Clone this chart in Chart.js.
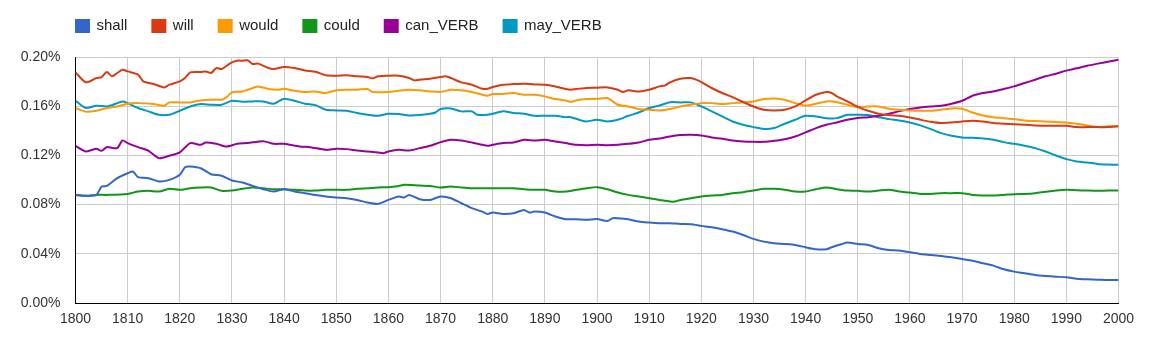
<!DOCTYPE html>
<html>
<head>
<meta charset="utf-8">
<script src="https://cdn.jsdelivr.net/npm/chart.js@4.4.1/dist/chart.umd.min.js"></script>
<style>
  html, body { margin: 0; padding: 0; background: #fff; }
  #wrap { width: 1152px; height: 346px; }
</style>
</head>
<body>
<div id="wrap"><canvas id="c" width="1152" height="346"></canvas></div>
<script>
// ---- data: [year, percent] ----
const shall = [[1800,.0879],[1802,.0871],[1804,.0879],[1805,.0947],[1806,.0952],[1808,.1015],[1810,.1055],[1811,.1069],[1812,.1023],[1814,.1015],[1816,.0988],[1818,.1001],[1820,.1042],[1821,.1104],[1822,.111],[1824,.1096],[1826,.1047],[1828,.1034],[1830,.0996],[1832,.098],[1834,.0952],[1836,.0925],[1838,.0906],[1840,.0925],[1842,.0906],[1844,.0893],[1846,.0878],[1848,.0866],[1850,.0858],[1852,.0852],[1854,.0838],[1856,.0817],[1858,.0806],[1860,.0838],[1862,.0866],[1863,.0857],[1864,.0879],[1866,.0844],[1868,.0838],[1870,.0866],[1872,.0852],[1874,.0811],[1876,.0771],[1878,.0743],[1879,.0724],[1880,.0735],[1882,.0724],[1884,.073],[1886,.0757],[1887,.0735],[1888,.0743],[1890,.0735],[1892,.0703],[1894,.0681],[1896,.0681],[1898,.0676],[1900,.0682],[1902,.0667],[1903,.0689],[1904,.0689],[1906,.0681],[1908,.0662],[1910,.0654],[1912,.0649],[1914,.0649],[1916,.0643],[1918,.064],[1920,.0627],[1922,.0616],[1924,.06],[1926,.0581],[1928,.0553],[1930,.0521],[1932,.0499],[1934,.0486],[1936,.048],[1938,.0472],[1940,.0453],[1942,.0437],[1944,.0437],[1945,.0453],[1947,.048],[1948,.0491],[1950,.048],[1952,.0472],[1954,.0445],[1956,.0431],[1958,.0426],[1960,.0412],[1962,.0399],[1964,.0391],[1966,.0383],[1968,.0372],[1970,.0358],[1972,.0344],[1974,.0323],[1976,.0304],[1978,.0274],[1980,.0255],[1982,.0242],[1984,.0228],[1986,.022],[1988,.0214],[1990,.0209],[1992,.0198],[1994,.0193],[1996,.019],[1998,.0187],[2000,.0187]];

const will = [[1800,.1875],[1802,.1794],[1804,.1829],[1805,.1837],[1806,.1878],[1807,.1843],[1808,.187],[1809,.1897],[1810,.1883],[1812,.1856],[1813,.1802],[1815,.178],[1817,.1753],[1818,.1775],[1820,.1802],[1821,.1829],[1822,.1875],[1824,.1878],[1825,.1883],[1826,.187],[1827,.191],[1828,.1902],[1829,.1929],[1830,.1957],[1831,.197],[1832,.197],[1833,.1973],[1834,.1943],[1835,.1946],[1837,.191],[1838,.1902],[1840,.1919],[1842,.191],[1844,.1891],[1846,.188],[1848,.1851],[1850,.1848],[1852,.1851],[1854,.1843],[1856,.1837],[1857,.1826],[1858,.1843],[1860,.1848],[1862,.1848],[1864,.1829],[1865,.181],[1866,.1816],[1868,.1824],[1870,.1837],[1871,.1843],[1872,.1829],[1874,.1794],[1876,.1775],[1878,.1742],[1879,.1742],[1880,.1756],[1882,.1775],[1884,.178],[1886,.1783],[1888,.1777],[1890,.1775],[1892,.1761],[1894,.174],[1895,.1734],[1896,.174],[1898,.1748],[1900,.1750],[1902,.1753],[1904,.1734],[1905,.1715],[1906,.1729],[1908,.172],[1910,.1734],[1912,.1761],[1913,.1767],[1914,.1794],[1916,.1824],[1918,.1829],[1919,.1816],[1920,.1796],[1922,.1748],[1924,.1707],[1926,.1674],[1928,.1634],[1930,.1598],[1932,.1571],[1934,.1566],[1936,.1571],[1938,.1598],[1940,.1647],[1942,.1693],[1944,.1715],[1945,.1707],[1946,.168],[1948,.1639],[1950,.1595],[1952,.1563],[1954,.1539],[1956,.1528],[1958,.1522],[1960,.1509],[1962,.149],[1964,.1473],[1966,.1463],[1968,.1468],[1970,.1476],[1972,.1482],[1974,.1476],[1976,.1463],[1978,.1457],[1980,.1454],[1982,.1449],[1984,.1444],[1986,.1441],[1988,.1441],[1990,.1441],[1992,.143],[1994,.143],[1996,.143],[1998,.143],[2000,.1436]];

const would = [[1800,.1585],[1802,.1555],[1804,.1563],[1806,.1585],[1808,.1598],[1810,.162],[1812,.1625],[1815,.1617],[1817,.1604],[1818,.1631],[1820,.1631],[1822,.1631],[1824,.1647],[1826,.1653],[1828,.1653],[1829,.1674],[1830,.1712],[1832,.172],[1834,.1748],[1835,.1761],[1837,.174],[1839,.1734],[1840,.1742],[1842,.1726],[1844,.1715],[1846,.172],[1848,.1707],[1850,.1729],[1852,.1734],[1854,.1734],[1856,.174],[1857,.1715],[1860,.1715],[1862,.1726],[1864,.1734],[1866,.1729],[1868,.172],[1870,.1715],[1872,.1734],[1874,.1729],[1876,.1715],[1878,.1693],[1879,.1685],[1880,.1699],[1882,.1699],[1884,.1707],[1886,.1693],[1888,.1693],[1890,.168],[1892,.1658],[1894,.1647],[1895,.1634],[1896,.1647],[1898,.1658],[1900,.1660],[1902,.1666],[1904,.1612],[1906,.1598],[1908,.1577],[1910,.1571],[1912,.1566],[1914,.1577],[1916,.1598],[1918,.1612],[1920,.1625],[1922,.1625],[1924,.1617],[1926,.1625],[1928,.1631],[1930,.1639],[1932,.1658],[1934,.1663],[1936,.1653],[1938,.1625],[1940,.1606],[1942,.162],[1944,.1639],[1946,.1633],[1948,.1612],[1950,.1592],[1952,.1598],[1954,.1598],[1956,.1579],[1958,.1571],[1960,.1566],[1962,.1563],[1964,.1563],[1966,.1571],[1968,.1582],[1970,.1579],[1972,.1549],[1974,.1525],[1976,.1511],[1978,.1503],[1980,.1495],[1982,.1484],[1984,.1479],[1986,.1476],[1988,.1471],[1990,.1468],[1992,.1457],[1994,.1444],[1996,.143],[1998,.1436],[2000,.1436]];

const could = [[1800,.0879],[1802,.0871],[1804,.0879],[1806,.0879],[1810,.0887],[1812,.0906],[1814,.0912],[1816,.0906],[1818,.0928],[1820,.092],[1822,.0933],[1824,.0939],[1826,.0939],[1828,.0912],[1830,.0914],[1832,.0928],[1834,.0939],[1836,.0933],[1838,.0925],[1840,.0925],[1842,.092],[1844,.0914],[1846,.0914],[1848,.092],[1850,.092],[1852,.092],[1854,.0928],[1856,.0933],[1858,.0939],[1860,.0942],[1862,.0952],[1863,.0961],[1866,.0955],[1868,.0952],[1870,.0939],[1872,.0947],[1874,.0939],[1876,.0933],[1878,.0933],[1880,.0933],[1882,.0933],[1884,.0933],[1886,.0925],[1888,.092],[1890,.092],[1892,.0906],[1894,.0906],[1896,.092],[1898,.0933],[1900,.0942],[1902,.0925],[1904,.0898],[1906,.0879],[1908,.0866],[1910,.0852],[1912,.0838],[1914,.0825],[1915,.0825],[1916,.0838],[1918,.0852],[1920,.0866],[1922,.0874],[1924,.0879],[1926,.0893],[1928,.0901],[1930,.0914],[1932,.0928],[1934,.0928],[1936,.092],[1938,.0906],[1940,.0906],[1942,.0925],[1944,.0939],[1946,.0925],[1948,.0914],[1950,.0912],[1952,.0906],[1954,.0914],[1956,.092],[1958,.0906],[1960,.0898],[1962,.0887],[1964,.0887],[1966,.0893],[1968,.0893],[1970,.0893],[1972,.0879],[1974,.0874],[1976,.0874],[1978,.0879],[1980,.0885],[1982,.0887],[1984,.0893],[1986,.0904],[1988,.0914],[1990,.092],[1992,.0917],[1994,.0914],[1996,.0912],[1998,.0914],[2000,.0914]];

const canVerb = [[1800,.1278],[1802,.1232],[1804,.1254],[1805,.1237],[1806,.1267],[1808,.1259],[1809,.1322],[1810,.1300],[1812,.1267],[1814,.1237],[1816,.1178],[1818,.1197],[1820,.1224],[1822,.13],[1824,.1286],[1825,.1305],[1827,.1294],[1829,.1272],[1831,.1294],[1833,.13],[1836,.1316],[1838,.1294],[1840,.1294],[1843,.1272],[1845,.1267],[1848,.1245],[1850,.1254],[1852,.1251],[1854,.124],[1856,.1232],[1858,.1224],[1859,.1218],[1860,.1232],[1862,.1245],[1864,.124],[1866,.1259],[1868,.1278],[1870,.1308],[1872,.1327],[1874,.1321],[1876,.1305],[1878,.1286],[1879,.1278],[1880,.1286],[1882,.13],[1884,.1305],[1886,.1327],[1888,.1321],[1890,.1327],[1892,.1313],[1894,.13],[1896,.1286],[1898,.1283],[1900,.1286],[1902,.1283],[1904,.1286],[1906,.1294],[1908,.1305],[1910,.1327],[1912,.1338],[1914,.1354],[1916,.1365],[1918,.1368],[1920,.1362],[1922,.1346],[1924,.1335],[1926,.1321],[1928,.1313],[1930,.131],[1932,.131],[1934,.1319],[1936,.1332],[1938,.1354],[1940,.1387],[1942,.1422],[1944,.1449],[1946,.1468],[1948,.149],[1950,.1505],[1952,.1511],[1954,.1522],[1956,.1539],[1958,.156],[1960,.1577],[1962,.159],[1964,.1598],[1966,.1604],[1968,.162],[1970,.1644],[1972,.1685],[1974,.1707],[1976,.172],[1978,.174],[1980,.1761],[1982,.1788],[1984,.1815],[1986,.1843],[1988,.1864],[1990,.1889],[1992,.1908],[1994,.1929],[1996,.1946],[1998,.1962],[2000,.1978]];

const mayVerb = [[1800,.1644],[1802,.1585],[1804,.1604],[1806,.1598],[1807,.1609],[1809,.1639],[1810,.1625],[1812,.1585],[1814,.1558],[1816,.153],[1818,.153],[1820,.1563],[1822,.1598],[1824,.1617],[1826,.1612],[1828,.1612],[1830,.1644],[1832,.1636],[1834,.1639],[1836,.1639],[1838,.162],[1840,.1661],[1842,.1644],[1844,.162],[1846,.1609],[1848,.1571],[1850,.1566],[1852,.1563],[1854,.1544],[1856,.153],[1858,.1522],[1860,.1539],[1862,.1536],[1864,.1525],[1866,.1528],[1868,.1539],[1869,.1549],[1870,.1577],[1872,.1582],[1874,.1558],[1876,.1558],[1877,.153],[1879,.153],[1880,.1539],[1882,.1558],[1884,.1544],[1886,.1539],[1888,.1522],[1890,.1522],[1892,.1522],[1894,.1511],[1895,.1511],[1897,.1484],[1898,.1476],[1900,.149],[1902,.1476],[1904,.149],[1906,.1522],[1908,.1549],[1910,.1585],[1912,.1606],[1914,.1633],[1916,.1631],[1918,.1631],[1920,.1598],[1922,.1558],[1924,.1517],[1926,.1476],[1928,.1449],[1930,.143],[1932,.1414],[1934,.1422],[1936,.1457],[1938,.149],[1940,.1522],[1942,.1517],[1944,.1503],[1946,.1503],[1948,.153],[1950,.153],[1952,.1528],[1954,.1511],[1956,.1495],[1958,.1484],[1960,.1468],[1962,.1444],[1964,.1414],[1966,.1381],[1968,.136],[1970,.1346],[1972,.1343],[1974,.1338],[1976,.1327],[1978,.1308],[1980,.1294],[1982,.1278],[1984,.1259],[1986,.1232],[1988,.1199],[1990,.117],[1992,.1151],[1994,.1142],[1996,.1131],[1998,.1126],[2000,.1123]];

const seriesNames = ['shall', 'will', 'would', 'could', 'can_VERB', 'may_VERB'];
const seriesData = [shall, will, would, could, canVerb, mayVerb];
const seriesColors = ['#3366cc', '#dc3912', '#ff9900', '#109618', '#990099', '#0099c6'];
const yTicks = [0, 0.04, 0.08, 0.12, 0.16, 0.20];
const xTicks = [1800,1810,1820,1830,1840,1850,1860,1870,1880,1890,1900,1910,1920,1930,1940,1950,1960,1970,1980,1990,2000];

const FONT = '"Liberation Sans", Arial, Helvetica, sans-serif';

const legendPlace = {
  id: 'legendPlace',
  afterLayout(chart) {
    const lg = chart.legend;
    if (lg) { lg.left = 51; lg.top = -6.5; }
  }
};

new Chart(document.getElementById('c'), {
  type: 'line',
  data: {
    datasets: seriesNames.map((name, i) => ({
      label: name,
      data: seriesData[i].map(p => ({ x: p[0], y: p[1] })),
      borderColor: seriesColors[i],
      backgroundColor: seriesColors[i],
      borderWidth: 2,
      pointRadius: 0,
      pointHoverRadius: 0,
      fill: false,
      tension: 0.25
    }))
  },
  options: {
    responsive: false,
    animation: false,
    layout: { padding: { left: 0, right: 33.5, top: 7, bottom: 0 } },
    plugins: {
      legend: {
        position: 'top',
        align: 'start',
        labels: {
          boxWidth: 13,
          boxHeight: 12,
          padding: 25,
          color: '#222',
          font: { family: FONT, size: 15 }
        }
      },
      tooltip: { enabled: false }
    },
    scales: {
      x: {
        type: 'linear',
        min: 1800,
        max: 2000,
        afterBuildTicks: s => { s.ticks = xTicks.map(v => ({ value: v })); },
        afterFit: s => { s.height = 43; },
        grid: { color: '#cccccc', lineWidth: 1, drawTicks: false },
        border: { color: '#000000', width: 1 },
        ticks: {
          padding: 8,
          color: '#333',
          font: { family: FONT, size: 14 },
          maxRotation: 0,
          autoSkip: false,
          callback: v => String(v)
        }
      },
      y: {
        min: 0,
        max: 0.2,
        afterBuildTicks: s => { s.ticks = yTicks.map(v => ({ value: v })); },
        afterFit: s => { s.width = 75.5; },
        grid: { color: '#cccccc', lineWidth: 1, drawTicks: false },
        border: { color: '#000000', width: 1 },
        ticks: {
          padding: 15,
          color: '#333',
          font: { family: FONT, size: 14 },
          callback: v => v.toFixed(2) + '%'
        }
      }
    }
  },
  plugins: [legendPlace]
});
</script>
</body>
</html>
